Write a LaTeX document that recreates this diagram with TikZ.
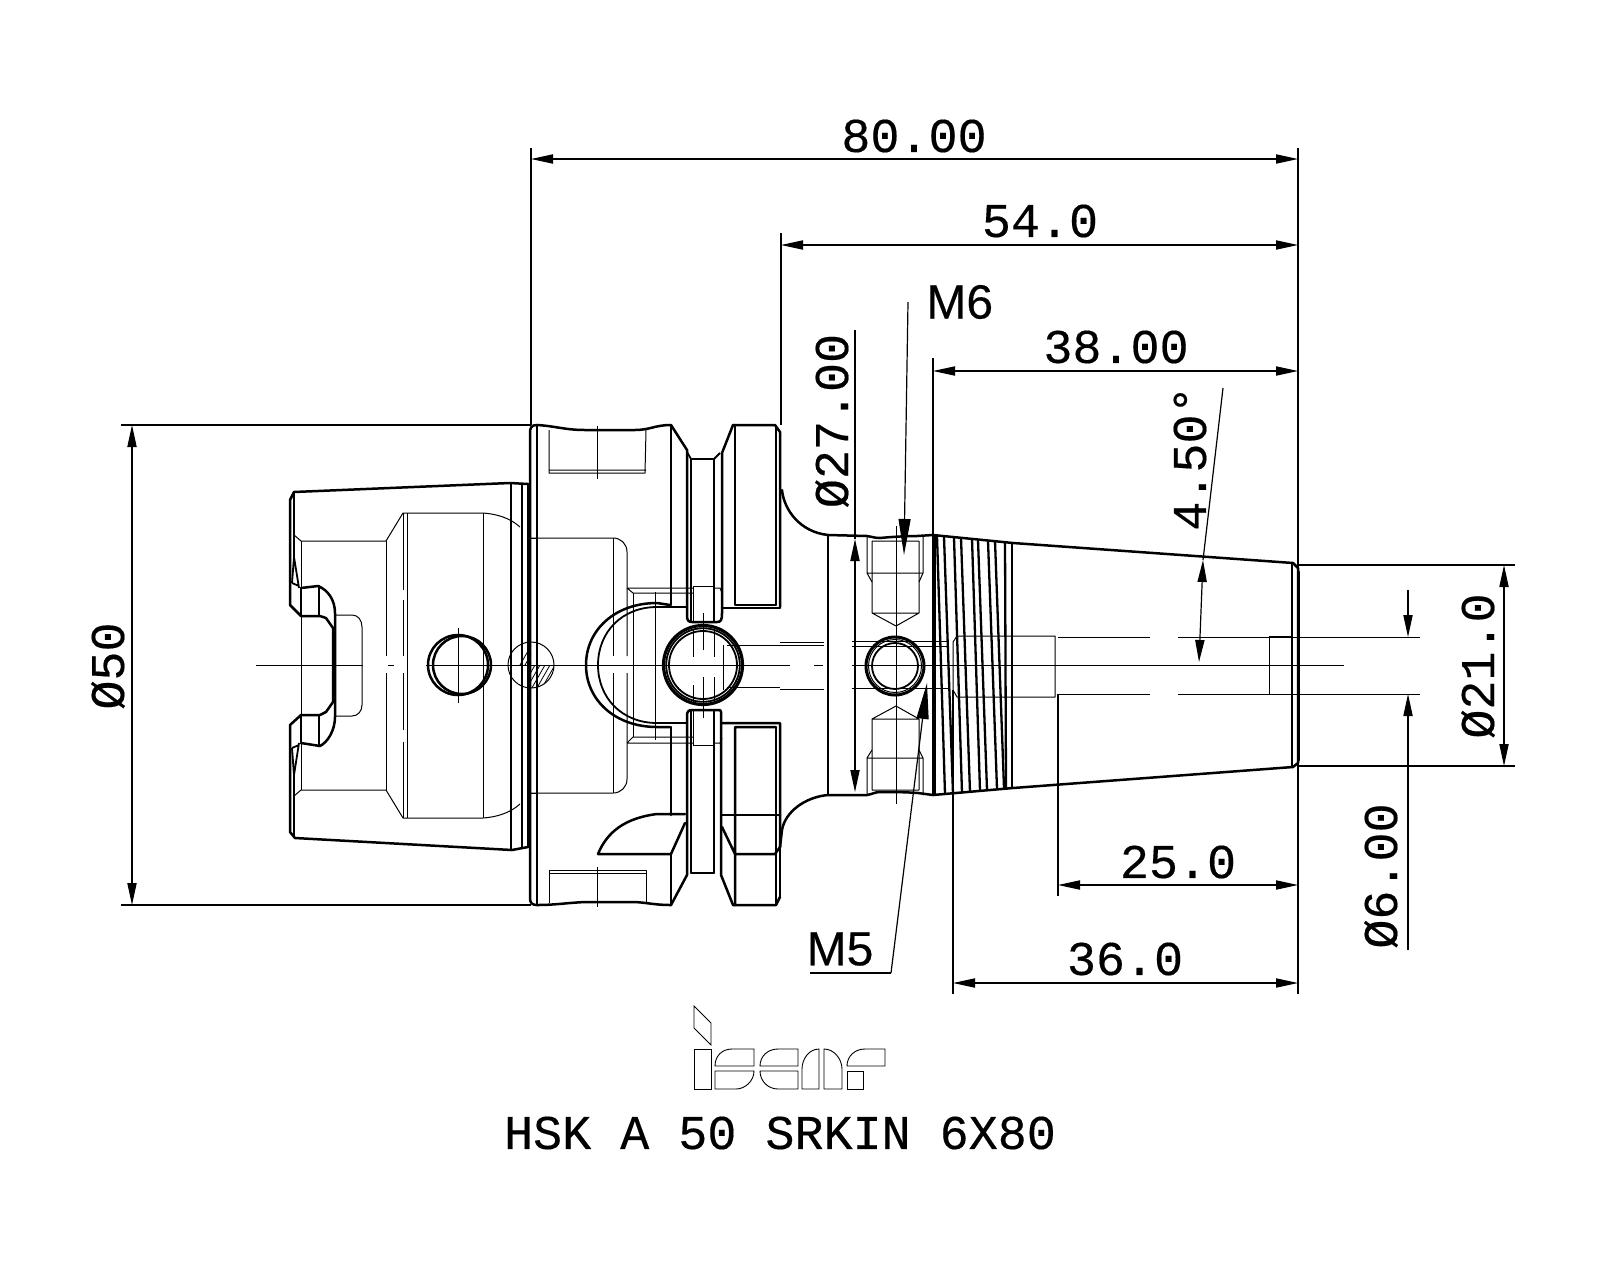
\documentclass[tikz,border=0pt]{standalone}
\usepackage{fontspec}
\setmainfont[FakeBold=0.35]{Liberation Mono}
\newfontfamily\msans[FakeBold=0.35]{Liberation Sans}
\usetikzlibrary{arrows.meta}
\tikzset{
 ol/.style={line width=1.25pt,line join=round,line cap=round},
 md/.style={line width=0.9pt,line join=round},
 tn/.style={line width=0.5pt,line join=round},
 dim/.style={line width=0.6pt},
 dimboth/.style={dim,{Triangle[length=11pt,width=4.6pt]}-{Triangle[length=11pt,width=4.6pt]}},
 dimend/.style={dim,-{Triangle[length=11pt,width=4.6pt]}},
 lbl/.style={inner sep=0pt,font=\fontsize{24.2}{25}\selectfont},
 sanslbl/.style={inner sep=0pt,font=\msans\fontsize{24}{24}\selectfont},
}
\begin{document}
\begin{tikzpicture}[x=0.5pt,y=-0.5pt]
\useasboundingbox (0,0) rectangle (1600,1280);
\fill[white] (0,0) rectangle (1600,1280);

% ---------- centre line
\draw[tn] (256,665)--(363,665) (388,665)--(394,665) (426,665)--(790,665) (814,665)--(823,665) (852,665)--(1344,665);

% ---------- HSK shank: outline
\draw[ol] (528,484)--(510,483)--(294,492)--(290,500)--(290,605)--(301,616)--(320,616)--(326,618)--(333,628)--(333,702)--(326,712)--(320,715)--(301,715)--(290,725)--(290,832)--(295,838)--(512,850)--(528,847);
\draw[ol] (301,588)--(318,586) .. controls (328,590) and (335,600) .. (335,613)--(335,717) .. controls (335,730) and (328,742) .. (320,746)--(301,743);
\draw[ol] (301,588)--(301,616) (319,586)--(319,616) (301,715)--(301,743) (319,715)--(319,746);
\draw[md] (294,492)--(294,557)--(299,588) (292,583)--(299,586) (294,557)--(292,583);
\draw[md] (294,838)--(294,775)--(299,743) (292,748)--(299,745) (294,775)--(292,748);
\draw[ol] (511,483)--(511,850) (522,484)--(522,847) (528,484)--(528,847);
% shank: thin inner contour
\draw[tn] (294,535)--(301,541)--(386,541)--(403,513)--(483,513) .. controls (497,514) and (510,518) .. (520,527);
\draw[tn] (294,796)--(301,790)--(386,790)--(403,818)--(483,818) .. controls (497,817) and (510,813) .. (520,804);
\draw[tn] (301,541)--(301,790);
\draw[tn] (386,541)--(386,656) (386,673)--(386,790);
\draw[tn] (403,513)--(403,590) (403,600)--(403,656) (403,673)--(403,730) (403,742)--(403,818);
\draw[tn] (407,513)--(407,818);
\draw[tn] (483,513)--(483,818);
\draw[tn] (335,615)--(352,615) .. controls (358,615) and (362,620) .. (362,627)--(362,705) .. controls (362,711) and (358,716) .. (352,716)--(335,716);
\draw[tn] (528,538)--(537,538) (528,793)--(537,793);
% pin hole on the shank
\draw[ol] (458,665) circle (30);
\draw[ol] (462,665) circle (29);
\draw[tn] (458,628)--(458,703);
% hatched pin
\draw[tn] (531,665) circle (23);
\begin{scope}
\clip (508,642) rectangle (531,665) (531,665) rectangle (554,688);
\clip (531,665) circle (23);
\foreach \k in {0,5,...,100}{\draw[line width=0.4pt] (500+\k,700)--(540+\k,630);}
\end{scope}

% ---------- flange block
\draw[ol] (537,425) .. controls (531,425) and (530,428) .. (530,433)--(530,898) .. controls (530,903) and (532,905) .. (537,905);
\draw[ol] (537,425)--(537,905);
\draw[ol] (537,425) .. controls (555,426) and (565,430) .. (585,430)--(635,430) .. controls (650,430) and (655,425) .. (671,425);
\draw[ol] (537,905) .. controls (555,905) and (565,903) .. (585,902)--(635,902) .. controls (650,903) and (655,905) .. (671,905);
% slots
\draw[tn] (549,430)--(549,473)--(645,473)--(646,430) (549,470)--(646,470);
\draw[tn] (597,426)--(597,479);
\draw[tn] (549,903)--(549,870)--(646,870)--(646,903) (549,873)--(646,873);
\draw[tn] (597,867)--(597,907);
% left collar
\draw[ol] (671,425)--(671,605);
\draw[ol] (671,727)--(671,815);
\draw[ol] (671,854)--(671,905);
\draw[ol] (671,425)--(687,450)--(687,615) .. controls (687,620) and (688,622) .. (692,622)--(717,622) .. controls (721,622) and (722,620) .. (722,613)--(722,453)--(733,425);
\draw[md] (691,459)--(691,622) (714,459)--(714,622);
\draw[ol] (691,459)--(714,459);
\draw[md] (687,452)--(691,459) (714,459)--(720,453);
\draw[ol] (733,425)--(775,425)--(780,432)--(780,607);
\draw[ol] (735,425)--(735,605)--(776,605);
\draw[md] (776,425)--(776,605);
\draw[ol] (722,608)--(780,608);
\draw[ol] (722,723)--(780,723)--(780,847)--(775,854)--(735,854)--(722,827) (735,727)--(776,727) (735,727)--(735,905);
\draw[md] (776,727)--(776,905);
\draw[ol] (722,815)--(780,815);
\draw[md] (780,847)--(780,897);
\draw[ol] (780,897)--(776,905)--(733,905)--(721,875)--(721,712) .. controls (721,710) and (720,710) .. (718,710)--(692,710) .. controls (688,710) and (687,712) .. (687,716)--(687,875)--(671,905);
\draw[md] (691,710)--(691,873) (714,710)--(714,873);
\draw[ol] (691,873)--(714,873);
% lower sweep
\draw[ol] (598,854) .. controls (607,832) and (625,818) .. (657,814)--(685,814) (598,854)--(671,854)--(685,823);
% oval recess
\draw[ol] (670,605)--(657,603) .. controls (615,603) and (586,630) .. (586,665) .. controls (586,700) and (615,727) .. (657,727)--(670,727);
\draw[md] (687,607)--(657,607) .. controls (622,607) and (598,632) .. (598,665) .. controls (598,698) and (622,723) .. (657,723)--(687,723);
% thin internal contours around central bore
\draw[tn] (530,538)--(613,538) .. controls (621,538) and (627,544) .. (627,552)--(627,656) (627,673)--(627,779) .. controls (627,787) and (621,793) .. (613,793)--(530,793);
\draw[tn] (613,538)--(613,656) (613,673)--(613,793);
\draw[tn] (627,588)--(693,588) (627,588)--(633,593)--(693,593) (627,743)--(693,743) (627,743)--(633,737)--(693,737);
\draw[tn] (633,593)--(633,737) (655,592)--(655,740);
\draw[tn] (693,586)--(714,586)--(714,622) (693,586)--(693,622) (693,745)--(714,745)--(714,710) (693,745)--(693,710);
\draw[tn] (714,588)--(720,588)--(722,593) (714,743)--(720,743)--(722,738);
% central bore
\draw[line width=1.6pt] (703,665) circle (39.5);
\draw[md] (703,665) circle (36.8);
\draw[md] (703,665) circle (34);
\draw[tn] (703,613)--(703,650) (703,677)--(703,718);
\draw[tn] (693,630)--(693,657) (693,685)--(693,705) (714,630)--(714,657) (714,677)--(714,700) (723,645)--(723,690);
% shaft ahead of bore
\draw[tn] (727,645)--(824,645) (780,642)--(824,642);
\draw[tn] (727,687)--(780,687) (780,689)--(824,689);

% ---------- neck and cone
\draw[ol] (782,490) .. controls (784,510) and (800,532) .. (828,535)--(867,536) .. controls (873,537) and (875,538) .. (880,538) .. controls (890,537) and (905,536) .. (917,536)--(933,535)--(1013,543)--(1293,563)--(1298,568)--(1298,763)--(1293,767)--(1013,788)--(933,795)--(918,793) .. controls (905,792) and (890,792) .. (880,792) .. controls (875,792) and (873,794) .. (867,795)--(828,795) .. controls (805,797) and (785,812) .. (782,830)--(780,847);
\draw[ol] (828,535)--(828,795);
\draw[ol] (933,535)--(933,795);
\draw[md] (935,536)--(935,795);
\draw[ol] (1292,563)--(1292,767);
\draw[ol] (1299,572)--(1299,760);
% threads
\foreach \a/\ya/\b/\yb in {937/536/945/794,944/537/953/794,954/538/962/793,961/538/970/792,972/539/980/791,978/540/987/790,988/541/997/789,995/541/1004/788,1005/542/1006/788,1012/543/1012/787}{
 \draw[line width=1.15pt] (\a,\ya)--(\b,\yb);
}
% bores in the cone
\draw[tn] (852,641)--(948,641) (852,646)--(948,646) (852,688)--(948,688);
\draw[tn] (953,642)--(957,636)--(1055,636)--(1055,697)--(957,697)--(953,690)--(953,642);
\draw[tn] (1058,637)--(1150,637) (1178,637)--(1420,637) (1058,694)--(1150,694) (1178,694)--(1420,694);
\draw[tn] (1269,636)--(1269,694) (1269,636)--(1292,636);
% M6 holes
\draw[tn] (867,536)--(867,573)--(872,582) (923,536)--(923,573)--(919,582) (867,573)--(923,573);
\draw[tn] (872,541)--(919,541) (872,541)--(872,613)--(896,626)--(919,613)--(919,541) (872,613)--(919,613);
\draw[tn] (867,795)--(867,758)--(872,750) (923,795)--(923,758)--(919,750) (867,758)--(923,758);
\draw[tn] (872,790)--(919,790) (872,790)--(872,719)--(896,706)--(919,719)--(919,790) (872,719)--(919,719);
\draw[tn] (896,526)--(896,625) (896,706)--(896,804) (896,625)--(896,706);
% M5 hole
\draw[line width=1.5pt] (895,666) circle (29);
\draw[tn] (895,666) circle (26.5);
\draw[md] (895,666) circle (23);

% ---------- dimensions
\coordinate (x0) at (531,159); \coordinate (x80) at (1298,159);
\draw[dim] (531,148)--(531,425) (781,233)--(781,425) (933,358)--(933,535);
\draw[dim] (1298,148)--(1298,994);
\draw[dimboth] (x0)--(x80);
\node[lbl] (t80) at (914,136) {80.00};
\coordinate (a54) at (781,245); \coordinate (b54) at (1298,245);
\draw[dimboth] (a54)--(b54);
\node[lbl] (t54) at (1040,221) {54.0};
\coordinate (a38) at (933,371); \coordinate (b38) at (1298,371);
\draw[dimboth] (a38)--(b38);
\node[lbl] (t38) at (1116,347) {38.00};
\coordinate (a25) at (1058,885); \coordinate (b25) at (1298,885);
\draw[dim] (1058,694)--(1058,896);
\draw[dimboth] (a25)--(b25);
\node[lbl] (t25) at (1178,862) {25.0};
\coordinate (a36) at (953,983); \coordinate (b36) at (1298,983);
\draw[dim] (953,690)--(953,994);
\draw[dimboth] (a36)--(b36);
\node[lbl] (t36) at (1125,959) {36.0};
% diameter 50
\draw[dim] (121,425)--(531,425) (121,905)--(531,905);
\coordinate (a50) at (132,425); \coordinate (b50) at (132,905);
\draw[dimboth] (a50)--(b50);
\node[lbl,rotate=90] (t50) at (108,666) {Ø50};
% diameter 27
\coordinate (a27) at (855,539); \coordinate (b27) at (855,792);
\draw[dim] (855,330)--(a27);
\draw[dimboth] (a27)--(b27);
\node[lbl,rotate=90] (t27) at (832,421) {Ø27.00};
% diameter 21
\draw[dim] (1298,565)--(1515,565) (1298,766)--(1515,766);
\coordinate (a21) at (1504,565); \coordinate (b21) at (1504,766);
\draw[dimboth] (a21)--(b21);
\node[lbl,rotate=90] (t21) at (1478,666) {Ø21.0};
% diameter 6
\coordinate (a6s) at (1408,590); \coordinate (a6) at (1408,637);
\coordinate (b6s) at (1408,950); \coordinate (b6) at (1408,694);
\draw[dimend] (a6s)--(a6);
\draw[dimend] (b6s)--(b6);
\node[lbl,rotate=90] (t6) at (1381,876) {Ø6.00};
% angle
\coordinate (ang0) at (1223,388); \coordinate (ang1) at (1203,560); \coordinate (ang2) at (1199,662);
\draw[dim] (ang0)--(ang1);
\draw[dimboth] (ang1)--(ang2);
\node[lbl,rotate=90] (t45) at (1190,458) {4.50°};
% thread callouts
\node[sanslbl,anchor=west] (m6) at (926,302) {M6};
\coordinate (m6a) at (908,302); \coordinate (m6b) at (904,555);
\draw[dim,-{Triangle[length=18pt,width=6pt]}] (m6a)--(m6b);
\node[sanslbl] (m5) at (840,949) {M5};
\coordinate (m5a) at (810,973); \coordinate (m5b) at (891,973); \coordinate (m5c) at (927,683);
\draw[dim] (m5a)--(m5b);
\draw[dim,-{Triangle[length=18pt,width=6pt]}] (m5b)--(m5c);

% ---------- logo
\begin{scope}[line width=0.45pt]
\draw (694,1006)--(711,1023)--(711,1045)--(694,1028)--cycle;
\draw (694,1049) rectangle (711,1089);
\draw (715,1066) .. controls (715,1056) and (722,1049) .. (732,1049)--(754,1049)--(754,1066)--cycle;
\draw (715,1071)--(754,1071) .. controls (754,1081) and (745,1089) .. (736,1089)--(715,1089)--cycle;
\draw (760,1066) .. controls (760,1056) and (768,1049) .. (778,1049)--(798,1049)--(798,1066)--cycle;
\draw (760,1071)--(798,1071)--(798,1089)--(778,1089) .. controls (768,1089) and (760,1081) .. (760,1071)--cycle;
\draw (802,1089)--(802,1069) .. controls (802,1059) and (809,1049) .. (819,1049)--(819,1089)--cycle;
\draw (824,1089)--(824,1049) .. controls (834,1049) and (842,1059) .. (842,1069)--(842,1089)--cycle;
\draw (847,1066) .. controls (847,1056) and (855,1049) .. (865,1049)--(885,1049)--(885,1066)--cycle;
\draw (847,1071) rectangle (863,1089);
\end{scope}
\node[lbl] (title) at (780,1133) {HSK A 50 SRKIN 6X80};
\end{tikzpicture}
\end{document}
